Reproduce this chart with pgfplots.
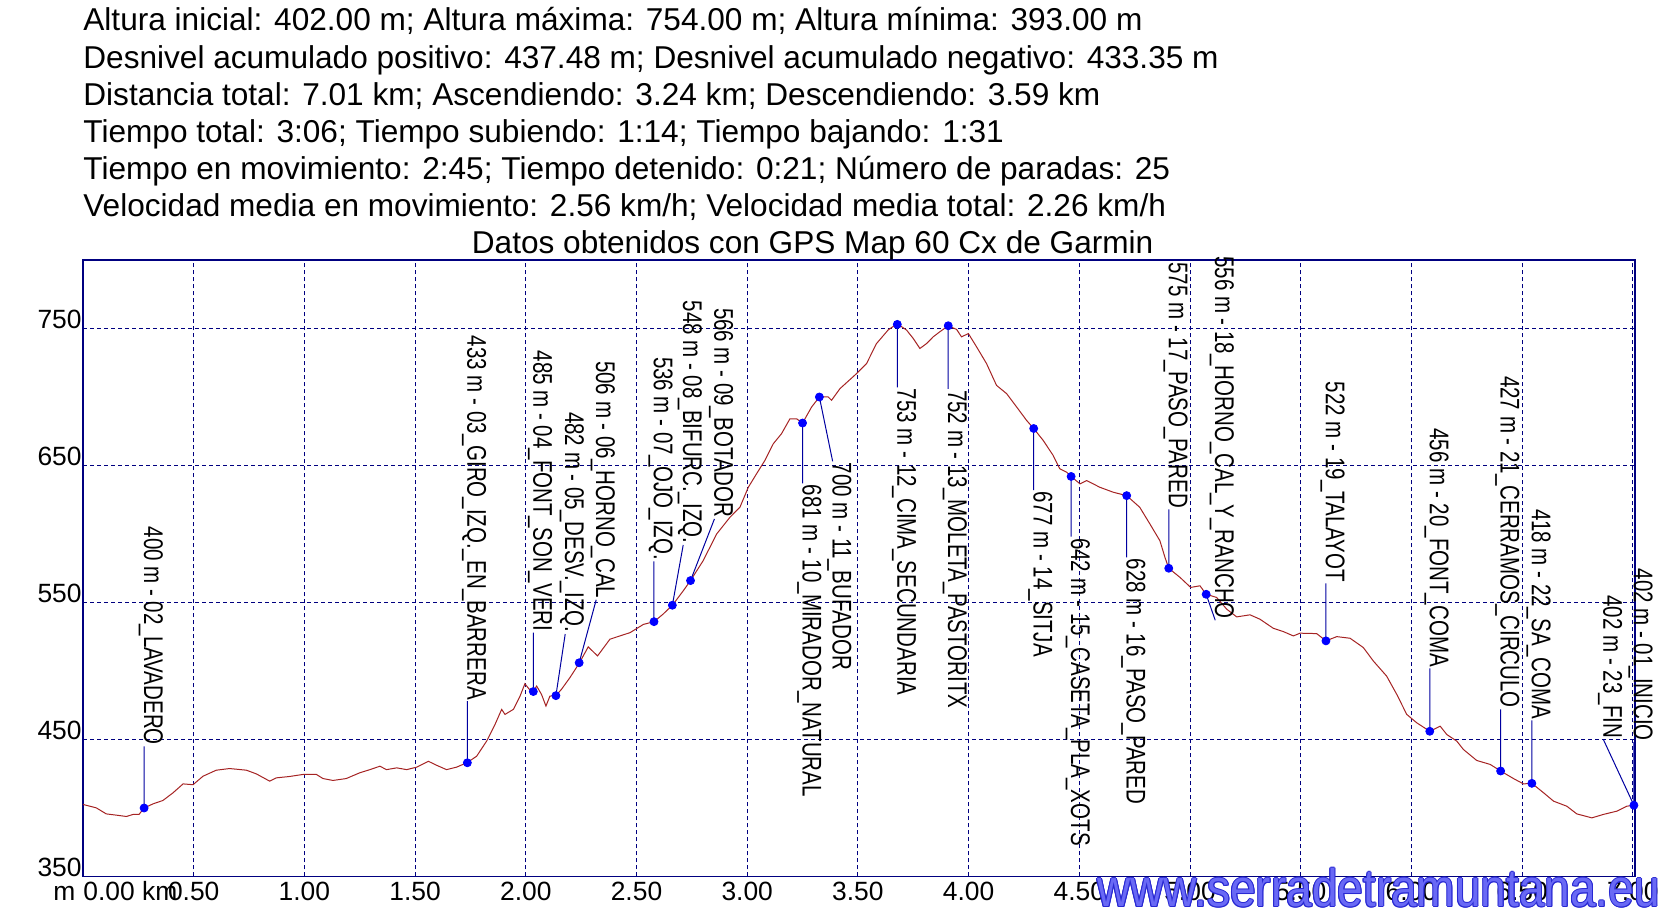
\documentclass[border=0pt]{standalone}
\usepackage{fontspec}
\setmainfont{Liberation Sans}
\usepackage{graphicx}
\usepackage{pgfplots}
\pgfplotsset{compat=1.18}
\usepackage{pgfplotstable}

\definecolor{navy}{RGB}{0,0,128}
\definecolor{perfil}{RGB}{165,35,35}
\definecolor{wpblue}{RGB}{0,0,255}
\definecolor{leader}{RGB}{0,0,160}
\definecolor{wmfill}{RGB}{105,105,245}
\definecolor{wmline}{RGB}{40,40,210}

\newcommand{\wplabel}[1]{\scalebox{0.76}[1]{\fontsize{13.5}{14}\selectfont #1}}
\newcommand{\wmtext}{\fontsize{23}{24}\selectfont www.serradetramuntana.eu}

% elevation profile (km, m)
\pgfplotstableread{
km elev
0.000 402.6
0.060 400.1
0.105 395.7
0.150 394.8
0.196 393.8
0.226 395.3
0.253 395.3
0.276 400.0
0.316 403.0
0.361 405.5
0.406 411.0
0.452 417.6
0.497 417.0
0.542 423.2
0.602 427.6
0.662 428.8
0.738 427.6
0.783 424.9
0.843 419.6
0.873 422.0
0.933 423.0
0.994 424.5
1.054 424.5
1.084 421.5
1.129 420.1
1.189 421.5
1.250 425.7
1.296 428.0
1.341 430.5
1.371 428.0
1.417 429.3
1.462 428.0
1.507 429.8
1.560 434.1
1.597 431.2
1.642 428.0
1.687 429.8
1.736 433.2
1.778 437.8
1.823 448.8
1.861 461.0
1.891 472.0
1.906 468.3
1.944 472.0
1.974 481.7
1.996 490.7
2.016 486.6
2.034 485.4
2.049 489.0
2.071 482.9
2.091 474.4
2.109 481.7
2.136 482.0
2.161 486.6
2.199 495.1
2.241 505.6
2.282 517.6
2.324 511.0
2.380 523.2
2.425 525.6
2.471 528.0
2.531 534.0
2.579 536.0
2.620 541.5
2.662 548.0
2.711 558.5
2.744 566.0
2.801 580.5
2.862 600.0
2.922 612.2
2.967 619.5
3.005 634.1
3.042 643.9
3.080 653.7
3.118 665.9
3.155 673.2
3.193 684.1
3.223 684.1
3.250 681.0
3.291 692.7
3.326 700.0
3.366 700.0
3.381 697.6
3.419 706.1
3.494 717.1
3.539 724.4
3.584 739.0
3.637 749.0
3.678 753.5
3.720 748.8
3.750 742.7
3.780 735.4
3.810 739.0
3.840 743.9
3.870 747.6
3.908 752.0
3.946 749.3
3.968 743.9
3.999 746.3
4.036 736.6
4.081 724.4
4.126 708.5
4.172 702.4
4.217 692.7
4.262 682.9
4.294 677.0
4.337 668.3
4.382 657.3
4.412 647.6
4.443 645.1
4.463 642.0
4.503 636.6
4.533 639.0
4.593 634.1
4.653 630.5
4.714 628.0
4.773 619.5
4.819 607.3
4.864 595.1
4.887 582.9
4.904 575.0
4.955 568.3
5.003 561.0
5.045 562.2
5.073 556.0
5.120 553.7
5.166 545.1
5.211 539.5
5.271 541.0
5.316 537.8
5.376 531.2
5.421 528.8
5.467 525.6
5.497 527.6
5.572 527.3
5.614 522.0
5.663 525.1
5.723 523.9
5.783 517.1
5.828 507.3
5.888 496.3
5.934 482.9
5.979 468.3
6.024 462.2
6.083 456.0
6.130 459.7
6.160 453.6
6.205 448.8
6.235 442.7
6.295 434.7
6.356 431.8
6.403 427.0
6.461 421.5
6.506 417.6
6.544 418.0
6.597 411.1
6.642 405.0
6.702 401.3
6.747 395.7
6.815 392.8
6.867 395.3
6.928 397.7
6.973 401.3
7.005 402.0
}\perfiltab

\begin{document}
\begin{tikzpicture}
\path[use as bounding box] (-41.5pt,-22.25pt) rectangle (796.5pt,438.25pt);
\begin{axis}[
    at={(0,0)}, anchor=south west,
    scale only axis, width=776pt, height=308.25pt,
    xmin=0, xmax=7.01, ymin=350, ymax=800,
    axis line style={navy, line width=0.8pt},
    xtick={0.5,1.0,1.5,2.0,2.5,3.0,3.5,4.0,4.5,5.0,5.5,6.0,6.5,7.0},
    xticklabels={0.50,1.00,1.50,2.00,2.50,3.00,3.50,4.00,4.50,5.00,5.50,6.00,6.50,7.00},
    ytick={350,450,550,650,750},
    yticklabels={350,450,550,650,750},
    grid=major,
    major grid style={navy, line width=0.5pt, dash pattern=on 2pt off 1.5pt},
    major tick length=0pt,
    tick label style={font=\fontsize{13.2}{14}\selectfont, inner sep=0pt},
    xticklabel style={anchor=base, yshift=-12.25pt},
    yticklabel style={anchor=base east, xshift=-0.5pt},
    clip=false,
    unbounded coords=jump,
]
\addplot[perfil, line width=0.5pt] table[x=km, y=elev] {\perfiltab};

% leader lines: waypoint -> label
\addplot[leader, line width=0.5pt] coordinates {
(0.276,400) (0.276,445) (0.276,nan)
(1.736,433) (1.736,478) (1.736,nan)
(2.034,485) (2.034,528) (2.034,nan)
(2.136,482) (2.178,527) (2.178,nan)
(2.241,506) (2.318,552) (2.318,nan)
(2.579,536) (2.579,580) (2.579,nan)
(2.662,548) (2.711,592) (2.711,nan)
(2.744,566) (2.852,611) (2.852,nan)
(3.250,681) (3.250,637) (3.250,nan)
(3.326,700) (3.386,653) (3.386,nan)
(3.678,753) (3.678,707) (3.678,nan)
(3.908,752) (3.908,706) (3.908,nan)
(4.294,677) (4.294,632) (4.294,nan)
(4.463,642) (4.463,598) (4.463,nan)
(4.714,628) (4.714,583) (4.714,nan)
(4.904,575) (4.904,618) (4.904,nan)
(5.073,556) (5.114,537) (5.114,nan)
(5.614,522) (5.614,564) (5.614,nan)
(6.083,456) (6.083,502) (6.083,nan)
(6.403,427) (6.403,472) (6.403,nan)
(6.544,418) (6.544,464) (6.544,nan)
(7.005,402) (7.005,448) (7.005,nan)
(7.005,402) (6.867,450)
};

% waypoints
\addplot[only marks, mark=*, mark size=2pt, wpblue] coordinates {
(0.276,400) (1.736,433) (2.034,485) (2.136,482) (2.241,506) (2.579,536)
(2.662,548) (2.744,566) (3.250,681) (3.326,700) (3.678,753) (3.908,752)
(4.294,677) (4.463,642) (4.714,628) (4.904,575) (5.073,556) (5.614,522)
(6.083,456) (6.403,427) (6.544,418) (7.005,402)
};

\tikzset{up/.style={rotate=-90, anchor=base east, inner sep=0.5pt},
         dn/.style={rotate=-90, anchor=base west, inner sep=0.5pt}}
\node[up] at (axis cs:0.276,445) {\wplabel{400 m - 02\_LAVADERO}};
\node[up] at (axis cs:1.736,478) {\wplabel{433 m - 03\_GIRO\_IZQ.\_EN\_BARRERA}};
\node[up] at (axis cs:2.034,528) {\wplabel{485 m - 04\_FONT\_SON\_VERI}};
\node[up] at (axis cs:2.178,527) {\wplabel{482 m - 05\_DESV.\_IZQ.}};
\node[up] at (axis cs:2.318,552) {\wplabel{506 m - 06\_HORNO\_CAL}};
\node[up] at (axis cs:2.579,580) {\wplabel{536 m - 07\_OJO\_IZQ.}};
\node[up] at (axis cs:2.711,592) {\wplabel{548 m - 08\_BIFURC.\_IZQ.}};
\node[up] at (axis cs:2.852,611) {\wplabel{566 m - 09\_BOTADOR}};
\node[dn] at (axis cs:3.250,637) {\wplabel{681 m - 10\_MIRADOR\_NATURAL}};
\node[dn] at (axis cs:3.386,653) {\wplabel{700 m - 11\_BUFADOR}};
\node[dn] at (axis cs:3.678,707) {\wplabel{753 m - 12\_CIMA\_SECUNDARIA}};
\node[dn] at (axis cs:3.908,706) {\wplabel{752 m - 13\_MOLETA\_PASTORITX}};
\node[dn] at (axis cs:4.294,632) {\wplabel{677 m - 14\_SITJA}};
\node[dn] at (axis cs:4.463,598) {\wplabel{642 m - 15\_CASETA\_PLA\_XOTS}};
\node[dn] at (axis cs:4.714,583) {\wplabel{628 m - 16\_PASO\_PARED}};
\node[up] at (axis cs:4.904,618) {\wplabel{575 m - 17\_PASO\_PARED}};
\node[up] at (axis cs:5.114,537) {\wplabel{556 m - 18\_HORNO\_CAL\_Y\_RANCHO}};
\node[up] at (axis cs:5.614,564) {\wplabel{522 m - 19\_TALAYOT}};
\node[up] at (axis cs:6.083,502) {\wplabel{456 m - 20\_FONT\_COMA}};
\node[up] at (axis cs:6.403,472) {\wplabel{427 m - 21\_CERRAMOS\_CIRCULO}};
\node[up] at (axis cs:6.544,464) {\wplabel{418 m - 22\_SA\_COMA}};
\node[up] at (axis cs:7.005,448) {\wplabel{402 m - 01\_INICIO}};
\node[up] at (axis cs:6.867,450) {\wplabel{402 m - 23\_FIN}};
\end{axis}

% units at the origin
\node[anchor=base west, inner sep=0, font=\fontsize{13.2}{14}\selectfont] at (-15pt,-12.25pt) {m};
\node[anchor=base west, inner sep=0, font=\fontsize{13.2}{14}\selectfont] at (0pt,-12.25pt) {0.00 km};

% header
\begin{scope}[every node/.style={anchor=base west, inner sep=0, font=\fontsize{15.8}{18}\selectfont}]
\node at (0pt,422.75pt) {Altura inicial: 402.00 m; Altura máxima: 754.00 m; Altura mínima: 393.00 m};
\node at (0pt,404.22pt) {Desnivel acumulado positivo: 437.48 m; Desnivel acumulado negativo: 433.35 m};
\node at (0pt,385.69pt) {Distancia total: 7.01 km; Ascendiendo: 3.24 km; Descendiendo: 3.59 km};
\node at (0pt,367.16pt) {Tiempo total: 3:06; Tiempo subiendo: 1:14; Tiempo bajando: 1:31};
\node at (0pt,348.63pt) {Tiempo en movimiento: 2:45; Tiempo detenido: 0:21; Número de paradas: 25};
\node at (0pt,330.10pt) {Velocidad media en movimiento: 2.56 km/h; Velocidad media total: 2.26 km/h};
\node at (194.25pt,311.57pt) {Datos obtenidos con GPS Map 60 Cx de Garmin};
\end{scope}

% watermark
\begin{scope}[every node/.style={anchor=base west, inner sep=0, yscale=1.15}]
\foreach \dx/\dy in {-0.5/0,0.5/0,0/-0.5,0/0.5,-0.35/-0.35,0.35/0.35,-0.35/0.35,0.35/-0.35}
  \node[text=wmline] at (507pt+\dx pt,-15.25pt+\dy pt) {\wmtext};
\node[text=wmfill] at (507pt,-15.25pt) {\wmtext};
\end{scope}
\end{tikzpicture}
\end{document}
